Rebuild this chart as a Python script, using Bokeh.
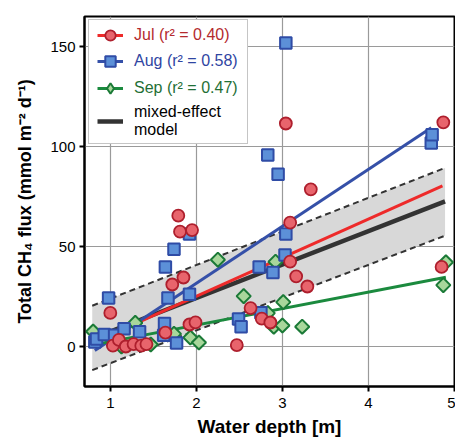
import numpy as np
from bokeh.plotting import figure
from bokeh.models import Range1d, FixedTicker, Legend, LegendItem
from bokeh.embed import file_html
from bokeh.resources import INLINE

# ---- data ----
jul_x = [1.00, 1.03, 1.10, 1.18, 1.27, 1.36, 1.42, 1.64, 1.72, 1.79, 1.81, 1.85, 1.92, 1.95, 1.99,
         2.47, 2.63, 2.76, 2.86, 3.04, 3.09, 3.09, 3.16, 3.29, 3.33, 4.85, 4.87]
jul_y = [16.8, 0.4, 3.3, 0.0, 1.2, 0.4, 1.2, 6.9, 31.0, 65.4, 57.4, 34.5, 11.0, 58.2, 12.1,
         0.7, 19.2, 13.9, 12.0, 111.5, 61.9, 42.4, 35.1, 30.0, 78.6, 39.8, 112.1]

aug_x = [0.82, 0.84, 0.93, 0.98, 1.05, 1.16, 1.34, 1.62, 1.63, 1.64, 1.67, 1.74, 1.77, 1.92, 1.92,
         2.49, 2.52, 2.73, 2.75, 2.83, 2.89, 2.95, 3.03, 3.04, 3.04, 4.73, 4.74]
aug_y = [2.3, 3.7, 6.0, 24.2, 5.6, 8.9, 7.4, 5.6, 11.5, 39.8, 24.2, 48.6, 1.7, 26.1, 56.3,
         13.7, 9.9, 39.8, 16.9, 95.8, 37.0, 86.1, 45.7, 56.3, 151.8, 101.7, 105.9]

sep_x = [0.80, 1.13, 1.29, 1.47, 1.74, 1.93, 2.03, 2.25, 2.55, 2.83, 2.90, 2.92, 3.00, 3.01, 3.23,
         4.87, 4.90]
sep_y = [7.5, 0.0, 11.8, 1.0, 6.3, 4.5, 2.0, 43.4, 25.2, 16.7, 9.9, 42.4, 10.5, 22.2, 9.9,
         30.7, 42.1]

# regression lines (end points of each fitted line)
jul_fit_x = [1.00, 4.86]
jul_fit_y = [5.8, 80.3]
aug_fit_x = [0.82, 4.73]
aug_fit_y = [-2.0, 109.4]
sep_fit_x = [0.80, 4.90]
sep_fit_y = [0.8, 34.6]
mixed_x = [0.79, 4.89]
mixed_y = [4.0, 72.6]
mixed_lo = [-11.8, 55.4]
mixed_hi = [20.4, 89.3]

x_ticks = [1, 2, 3, 4, 5]
y_ticks = [0, 50, 100, 150]

labels = ["Jul (r\u00b2 = 0.40)", "Aug (r\u00b2 = 0.58)", "Sep (r\u00b2 = 0.47)", "mixed-effect\nmodel"]

FONT = "Liberation Sans"

p = figure(width=455, height=439, output_backend="svg", toolbar_location=None,
           x_range=Range1d(0.7, 5.0), y_range=Range1d(-20, 165),
           min_border_left=84, min_border_right=1, min_border_top=16, min_border_bottom=52)
p.background_fill_color = "white"
p.border_fill_color = "white"
p.outline_line_color = "black"
p.outline_line_width = 2

p.xaxis.ticker = FixedTicker(ticks=x_ticks)
p.yaxis.ticker = FixedTicker(ticks=y_ticks)
for ax in (p.xaxis, p.yaxis):
    ax.axis_line_width = 2
    ax.axis_line_color = "black"
    ax.major_tick_line_width = 2
    ax.major_tick_line_color = "black"
    ax.major_tick_in = 0
    ax.major_tick_out = 5
    ax.minor_tick_line_color = None
    ax.major_label_text_font = FONT
    ax.major_label_text_font_size = "15px"
    ax.major_label_text_color = "black"
    ax.axis_label_text_font = FONT
    ax.axis_label_text_font_style = "bold"
    ax.axis_label_text_color = "black"
p.xaxis.axis_label_text_font_size = "19px"
p.yaxis.axis_label_text_font_size = "18px"
p.xaxis.major_label_standoff = 6
p.xaxis.axis_label_standoff = 5
p.yaxis.major_label_standoff = 4
p.yaxis.axis_label_standoff = 12
p.xaxis.axis_label = "Water depth [m]"
p.yaxis.axis_label = "Total CH\u2084 flux (mmol m\u207b\u00b2 d\u207b\u00b9)"

p.grid.grid_line_color = "#9a9a9a"
p.grid.grid_line_width = 1.2

# mixed-effect model band + bounds
p.varea(x=mixed_x, y1=mixed_lo, y2=mixed_hi, fill_color="#d8d8d8", fill_alpha=1.0)
p.line(mixed_x, mixed_hi, line_color="#333333", line_width=2, line_dash="6 4")
p.line(mixed_x, mixed_lo, line_color="#333333", line_width=2, line_dash="6 4")
r_mixed = p.line(mixed_x, mixed_y, line_color="#333333", line_width=4.5)

# fitted lines
RED_L, BLUE_L, GREEN_L = "#ee2a2a", "#3550a8", "#1b8a3e"
r_jul_l = p.line(jul_fit_x, jul_fit_y, line_color=RED_L, line_width=3)
r_aug_l = p.line(aug_fit_x, aug_fit_y, line_color=BLUE_L, line_width=3)
r_sep_l = p.line(sep_fit_x, sep_fit_y, line_color=GREEN_L, line_width=3)

# points
SEP_FILL, SEP_EDGE = "#a8d79b", "#1b7a37"
r_sep_p = p.scatter(sep_x, sep_y, marker="square", angle=np.pi / 4, size=10, fill_color=SEP_FILL,
                    line_color=SEP_EDGE, line_width=2)
r_aug_p = p.scatter(aug_x, aug_y, marker="square", size=11.5, fill_color="#5c90d8",
                    line_color="#2f4ca6", line_width=2)
r_jul_p = p.scatter(jul_x, jul_y, marker="circle", size=12, fill_color="#e8646c",
                    line_color="#ae1f2d", line_width=1.8)
# legend-only diamond glyph for September (a single non-drawn NaN point)
r_sep_leg = p.scatter(np.array([np.nan]), np.array([np.nan]), marker="diamond", size=12,
                      fill_color=SEP_FILL, line_color=SEP_EDGE, line_width=2)

# legend frame (box only)
r_dummy = p.line([], [], line_alpha=0)
frame_leg = Legend(items=[LegendItem(label=" ", renderers=[r_dummy])],
                   location=(4, 242), margin=0, padding=0, spacing=0,
                   glyph_width=1, glyph_height=123, label_height=123, label_width=157,
                   label_standoff=0, border_line_color="#8c8c8c", border_line_width=1.5,
                   background_fill_color="white", background_fill_alpha=1.0,
                   label_text_alpha=0)
p.add_layout(frame_leg)

def item_legend(label, renderers, color, y, gh=26):
    lg = Legend(items=[LegendItem(label=label, renderers=renderers)],
                location=(13, y), margin=0, padding=0, spacing=0,
                glyph_width=26, glyph_height=gh, label_height=gh, label_standoff=11,
                border_line_color=None, background_fill_alpha=0,
                label_text_font=FONT, label_text_font_size="16px",
                label_text_color=color, label_text_baseline="middle")
    p.add_layout(lg)

item_legend(labels[0], [r_jul_l, r_jul_p], "#b42a2e", 338)
item_legend(labels[1], [r_aug_l, r_aug_p], "#2f45a2", 312)
item_legend(labels[2], [r_sep_l, r_sep_leg], "#1f6f36", 285)
item_legend(labels[3], [r_mixed], "black", 247, gh=36)

open("out.html", "w").write(file_html(p, INLINE))
